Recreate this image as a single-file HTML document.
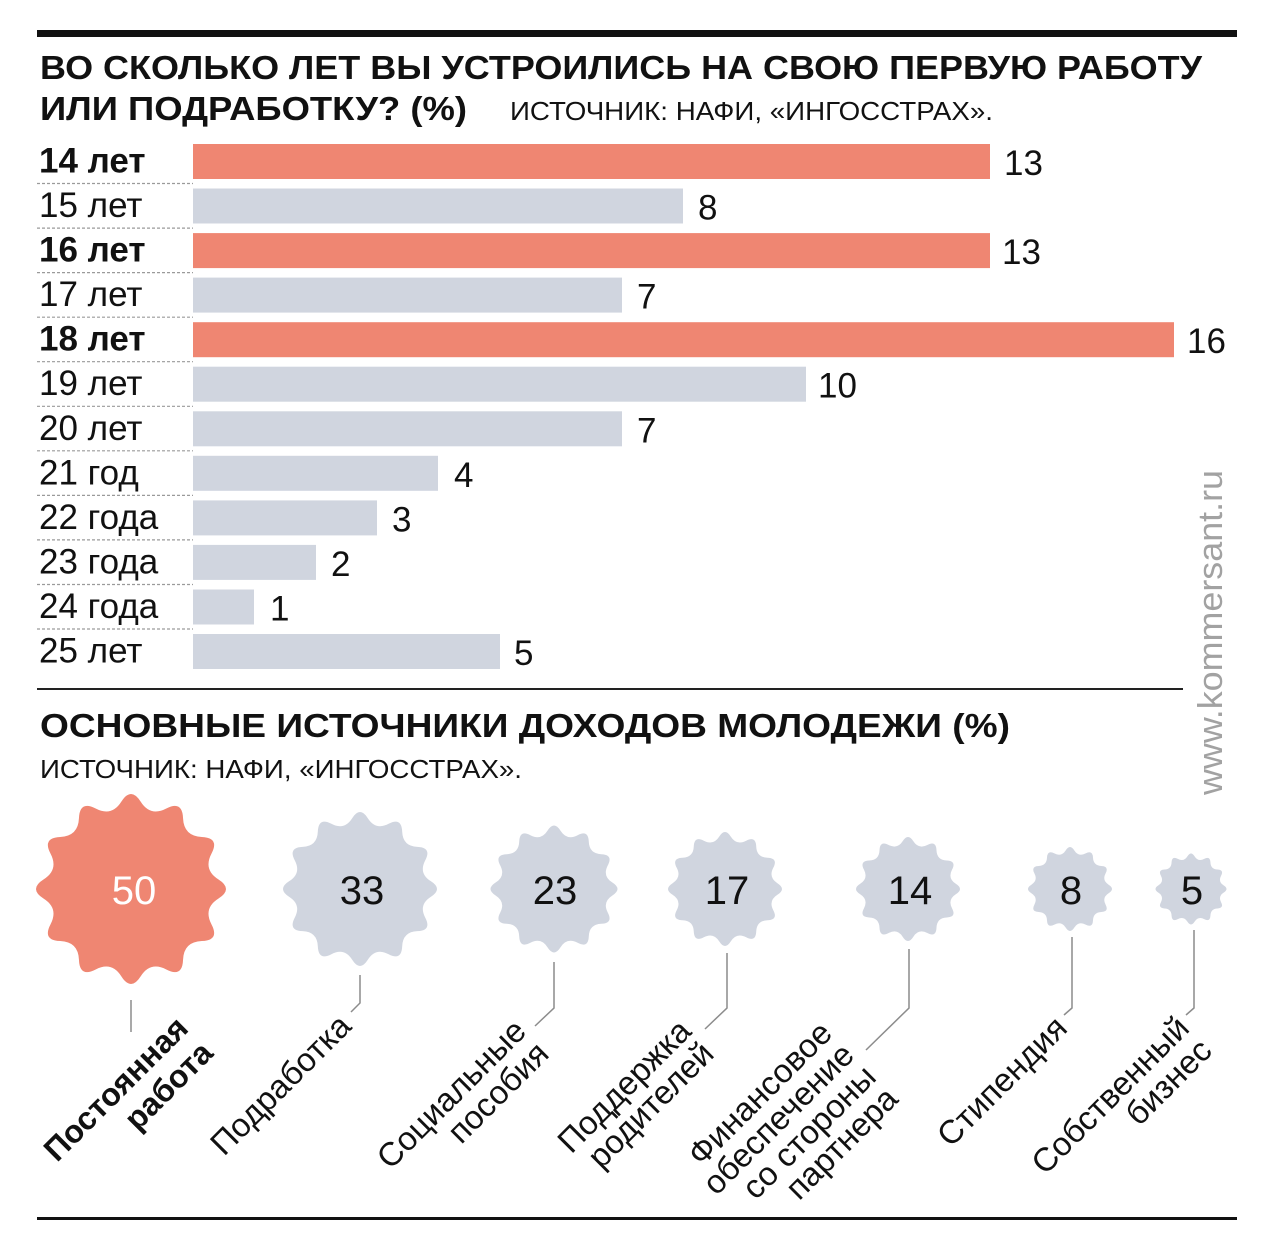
<!DOCTYPE html>
<html>
<head>
<meta charset="utf-8">
<style>
  html,body{margin:0;padding:0;background:#fff;}
  svg{display:block;}
</style>
</head>
<body>
<svg width="1280" height="1253" viewBox="0 0 1280 1253" xmlns="http://www.w3.org/2000/svg" font-family="'Liberation Sans', 'Noto Sans CJK SC', sans-serif">
  <defs>
    <path id="star" d="M10.16,-91.95 Q20.33,-75.86 37.18,-84.72 Q54.02,-93.57 54.78,-74.56 Q55.54,-55.54 74.56,-54.78 Q93.57,-54.02 84.72,-37.18 Q75.86,-20.33 91.95,-10.16 Q108.04,0 91.95,10.16 Q75.86,20.33 84.72,37.18 Q93.57,54.02 74.56,54.78 Q55.54,55.54 54.78,74.56 Q54.02,93.57 37.18,84.72 Q20.33,75.86 10.16,91.95 Q0,108.04 -10.16,91.95 Q-20.33,75.86 -37.18,84.72 Q-54.02,93.57 -54.78,74.56 Q-55.54,55.54 -74.56,54.78 Q-93.57,54.02 -84.72,37.18 Q-75.86,20.33 -91.95,10.16 Q-108.04,0 -91.95,-10.16 Q-75.86,-20.33 -84.72,-37.18 Q-93.57,-54.02 -74.56,-54.78 Q-55.54,-55.54 -54.78,-74.56 Q-54.02,-93.57 -37.18,-84.72 Q-20.33,-75.86 -10.16,-91.95 Q0,-108.04 10.16,-91.95 Z"/>
  </defs>

  <!-- top rule -->
  <rect x="37" y="30" width="1200" height="7" fill="#111"/>

  <!-- title 1 -->
  <text x="40" y="79" font-size="33" font-weight="bold" fill="#111" textLength="1162" lengthAdjust="spacingAndGlyphs">ВО СКОЛЬКО ЛЕТ ВЫ УСТРОИЛИСЬ НА СВОЮ ПЕРВУЮ РАБОТУ</text>
  <text x="40" y="120" font-size="33" font-weight="bold" fill="#111" textLength="427" lengthAdjust="spacingAndGlyphs">ИЛИ ПОДРАБОТКУ? (%)</text>
  <text x="510" y="120" font-size="26" fill="#111" textLength="483" lengthAdjust="spacingAndGlyphs">ИСТОЧНИК: НАФИ, «ИНГОССТРАХ».</text>

  <!-- separators -->
  <g stroke="#9a9a9a" stroke-width="1.2" stroke-dasharray="3,2">
    <line x1="37" y1="183.5" x2="193" y2="183.5"/>
    <line x1="37" y1="228.1" x2="193" y2="228.1"/>
    <line x1="37" y1="272.6" x2="193" y2="272.6"/>
    <line x1="37" y1="317.2" x2="193" y2="317.2"/>
    <line x1="37" y1="361.7" x2="193" y2="361.7"/>
    <line x1="37" y1="406.3" x2="193" y2="406.3"/>
    <line x1="37" y1="450.8" x2="193" y2="450.8"/>
    <line x1="37" y1="495.4" x2="193" y2="495.4"/>
    <line x1="37" y1="539.9" x2="193" y2="539.9"/>
    <line x1="37" y1="584.5" x2="193" y2="584.5"/>
    <line x1="37" y1="629.0" x2="193" y2="629.0"/>
  </g>

  <!-- bars -->
  <rect x="193" y="144" width="797" height="35" fill="#ef8672"/>
  <rect x="193" y="188.5" width="490" height="35" fill="#d0d5df"/>
  <rect x="193" y="233.1" width="797" height="35" fill="#ef8672"/>
  <rect x="193" y="277.6" width="429" height="35" fill="#d0d5df"/>
  <rect x="193" y="322.2" width="981" height="35" fill="#ef8672"/>
  <rect x="193" y="366.7" width="613" height="35" fill="#d0d5df"/>
  <rect x="193" y="411.3" width="429" height="35" fill="#d0d5df"/>
  <rect x="193" y="455.8" width="245" height="35" fill="#d0d5df"/>
  <rect x="193" y="500.4" width="184" height="35" fill="#d0d5df"/>
  <rect x="193" y="544.9" width="123" height="35" fill="#d0d5df"/>
  <rect x="193" y="589.5" width="61" height="35" fill="#d0d5df"/>
  <rect x="193" y="634.0" width="307" height="35" fill="#d0d5df"/>

  <!-- row labels -->
  <g font-size="35" fill="#111">
    <text x="39" y="172.5" font-weight="bold">14 лет</text>
    <text x="39" y="217">15 лет</text>
    <text x="39" y="261.6" font-weight="bold">16 лет</text>
    <text x="39" y="306.1">17 лет</text>
    <text x="39" y="350.7" font-weight="bold">18 лет</text>
    <text x="39" y="395.2">19 лет</text>
    <text x="39" y="439.8">20 лет</text>
    <text x="39" y="484.3">21 год</text>
    <text x="39" y="528.9">22 года</text>
    <text x="39" y="573.4">23 года</text>
    <text x="39" y="618">24 года</text>
    <text x="39" y="662.5">25 лет</text>
  </g>

  <!-- values -->
  <g font-size="35" fill="#111">
    <text x="1004" y="175">13</text>
    <text x="698" y="219.5">8</text>
    <text x="1002" y="264.1">13</text>
    <text x="637" y="308.6">7</text>
    <text x="1187" y="353.2">16</text>
    <text x="818" y="397.7">10</text>
    <text x="637" y="442.3">7</text>
    <text x="454" y="486.8">4</text>
    <text x="392" y="531.4">3</text>
    <text x="331" y="575.9">2</text>
    <text x="270" y="620.5">1</text>
    <text x="514" y="665.0">5</text>
  </g>

  <!-- middle rule -->
  <rect x="37" y="688" width="1146" height="2" fill="#222"/>

  <!-- watermark -->
  <text transform="translate(1222,795) rotate(-90)" font-size="34" fill="#a2a2a2" textLength="325" lengthAdjust="spacingAndGlyphs">www.kommersant.ru</text>

  <!-- title 2 -->
  <text x="40" y="737" font-size="33" font-weight="bold" fill="#111" textLength="970" lengthAdjust="spacingAndGlyphs">ОСНОВНЫЕ ИСТОЧНИКИ ДОХОДОВ МОЛОДЕЖИ (%)</text>
  <text x="40" y="778" font-size="26" fill="#111" textLength="482" lengthAdjust="spacingAndGlyphs">ИСТОЧНИК: НАФИ, «ИНГОССТРАХ».</text>

  <!-- stars -->
  <use href="#star" transform="translate(131,889) scale(0.95)" fill="#ef8672"/>
  <use href="#star" transform="translate(360,889) scale(0.77)" fill="#d0d5df"/>
  <use href="#star" transform="translate(554,889) scale(0.635)" fill="#d0d5df"/>
  <use href="#star" transform="translate(725,889) scale(0.57)" fill="#d0d5df"/>
  <use href="#star" transform="translate(908,889) scale(0.52)" fill="#d0d5df"/>
  <use href="#star" transform="translate(1070,889) scale(0.42)" fill="#d0d5df"/>
  <use href="#star" transform="translate(1191,889) scale(0.355)" fill="#d0d5df"/>

  <!-- star numbers -->
  <g font-size="40" text-anchor="middle" fill="#111">
    <text x="134" y="904" fill="#fff">50</text>
    <text x="362" y="904">33</text>
    <text x="555" y="904">23</text>
    <text x="727" y="904">17</text>
    <text x="910" y="904">14</text>
    <text x="1071" y="904">8</text>
    <text x="1192" y="904">5</text>
  </g>

  <!-- connectors -->
  <g fill="none" stroke="#8c8c8c" stroke-width="1.5">
    <polyline points="131,1000 131,1032"/>
    <polyline points="360,975 360,1003 351,1012"/>
    <polyline points="554,962 554,1008 535,1026"/>
    <polyline points="727,953 727,1008 705,1029"/>
    <polyline points="909,949 909,1008 866,1050"/>
    <polyline points="1072,937 1072,1008 1064,1015"/>
    <polyline points="1194,930 1194,1008 1186,1015"/>
  </g>

  <!-- rotated labels -->
  <g font-size="33" fill="#111" text-anchor="end">
    <g transform="translate(190,1030) rotate(-45)" font-weight="bold" font-size="32">
      <text x="0" y="0">Постоянная</text>
      <text x="0" y="35">работа</text>
    </g>
    <g transform="translate(353,1028) rotate(-45)">
      <text x="0" y="0">Подработка</text>
    </g>
    <g transform="translate(528,1033) rotate(-45)">
      <text x="0" y="0">Социальные</text>
      <text x="0" y="32">пособия</text>
    </g>
    <g transform="translate(693,1033) rotate(-45)">
      <text x="0" y="0">Поддержка</text>
      <text x="0" y="32">родителей</text>
    </g>
    <g transform="translate(834,1035) rotate(-45)">
      <text x="0" y="0">Финансовое</text>
      <text x="0" y="31">обеспечение</text>
      <text x="0" y="62">со стороны</text>
      <text x="0" y="93">партнера</text>
    </g>
    <g transform="translate(1069,1030) rotate(-45)">
      <text x="0" y="0">Стипендия</text>
    </g>
    <g transform="translate(1191,1030) rotate(-45)">
      <text x="0" y="0">Собственный</text>
      <text x="0" y="32">бизнес</text>
    </g>
  </g>

  <!-- bottom rule -->
  <rect x="37" y="1217" width="1200" height="3" fill="#111"/>
</svg>
</body>
</html>
